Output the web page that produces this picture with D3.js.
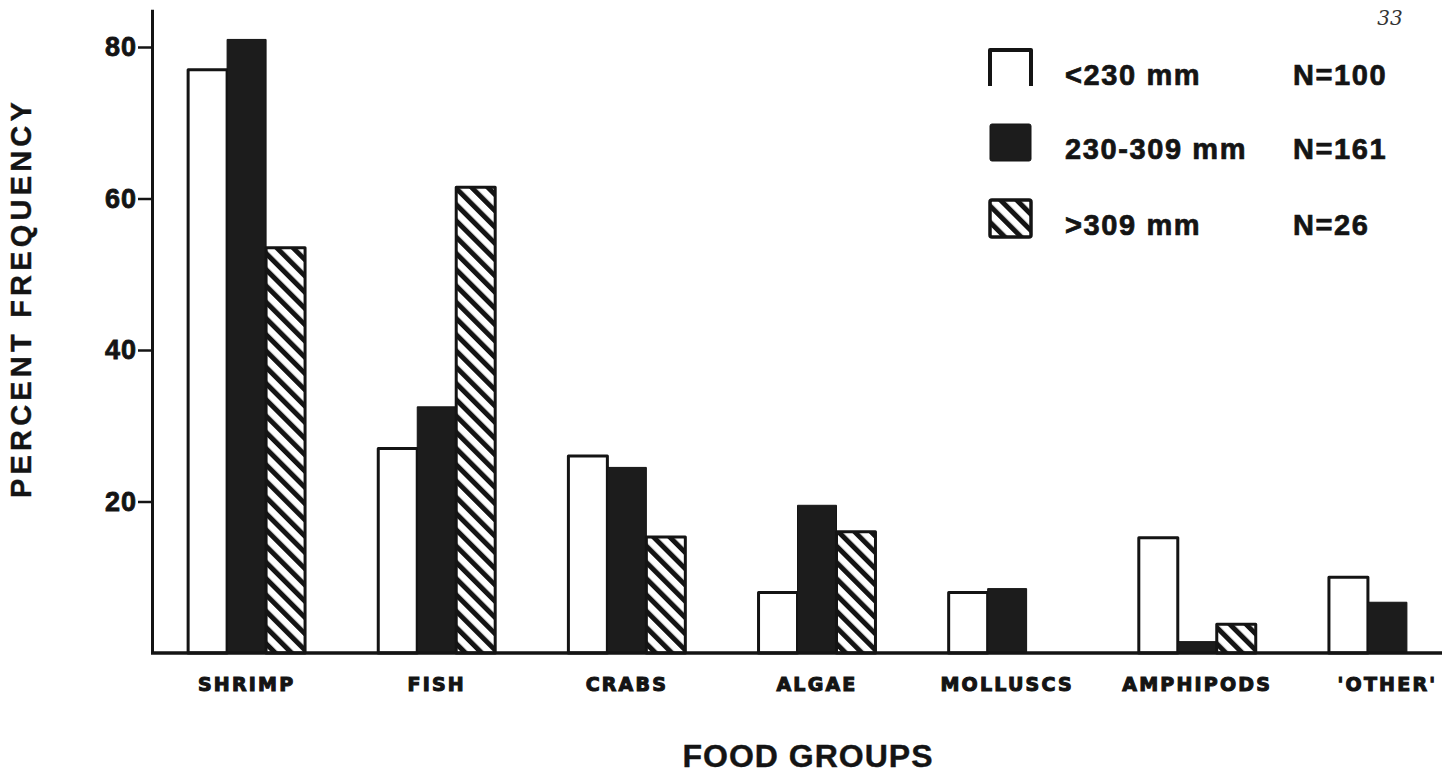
<!DOCTYPE html>
<html>
<head>
<meta charset="utf-8">
<script src="https://cdn.jsdelivr.net/npm/d3@7"></script>
<style>
  html, body { margin: 0; padding: 0; background: #ffffff; }
  svg { display: block; }
</style>
</head>
<body>
<script>
// ---------------- DATA ----------------
const categories = ["SHRIMP", "FISH", "CRABS", "ALGAE", "MOLLUSCS", "AMPHIPODS", "'OTHER'"];
const seriesNames = ["<230 mm", "230-309 mm", ">309 mm"];
const seriesN = ["N=100", "N=161", "N=26"];
const seriesKeys = ["small", "medium", "large"];
const smallVals  = [77, 27, 26, 8, 8, 15.2, 10];
const mediumVals = [81, 32.5, 24.5, 19.5, 8.5, 1.5, 6.7];
const largeVals  = [53.5, 61.5, 15.3, 16, 0, 3.8, 0];
const yTickValues = [20, 40, 60, 80];
const yTitle = "PERCENT FREQUENCY";
const xTitle = "FOOD GROUPS";
const pageNumber = "33";

// ---------------- LAYOUT ----------------
const W = 1452, H = 774;
const axisX = 152, baseY = 653;
const ink = "#141414";

const rows = categories.map((c, i) => ({
  cat: c,
  values: [smallVals[i], mediumVals[i], largeVals[i]]
}));

const svg = d3.select("body").append("svg")
  .attr("width", W).attr("height", H)
  .attr("viewBox", `0 0 ${W} ${H}`);

svg.append("rect").attr("width", W).attr("height", H).attr("fill", "#fff");

const defs = svg.append("defs");
const pat = defs.append("pattern")
  .attr("id", "hatch")
  .attr("patternUnits", "userSpaceOnUse")
  .attr("width", 11.5).attr("height", 11.5)
  .attr("patternTransform", "rotate(-45)");
pat.append("rect").attr("width", 11.5).attr("height", 11.5).attr("fill", "#fff");
pat.append("rect").attr("x", 0).attr("width", 5).attr("height", 11.5).attr("fill", ink);

const fills = ["#ffffff", "#1c1c1c", "url(#hatch)"];

// scales
const y = d3.scaleLinear().domain([0, 85]).range([baseY, baseY - 85 * 7.575]);
const x0 = d3.scaleBand().domain(categories).range([axisX, 1482])
  .paddingInner(0.385).paddingOuter(0.19);
const x1 = d3.scaleBand().domain(seriesKeys).range([0, x0.bandwidth()]).padding(0);

// bars
const g = svg.append("g");
const groups = g.selectAll("g.grp").data(rows).join("g")
  .attr("class", "grp")
  .attr("transform", d => `translate(${x0(d.cat)},0)`);

groups.selectAll("rect")
  .data(d => d.values.map((v, i) => ({ v, i })).filter(e => e.v > 0))
  .join("rect")
  .attr("x", e => x1(seriesKeys[e.i]))
  .attr("y", e => y(e.v))
  .attr("width", x1.bandwidth())
  .attr("height", e => baseY - y(e.v))
  .attr("fill", e => fills[e.i])
  .attr("stroke", ink)
  .attr("stroke-width", e => e.i === 1 ? 1 : 3)
  .attr("stroke-linejoin", "round");

// y axis
const yAxis = d3.axisLeft(y).tickValues(yTickValues).tickSize(14).tickSizeOuter(0).tickPadding(1);
const ya = svg.append("g").attr("transform", `translate(${axisX},0)`).call(yAxis);
ya.select(".domain").attr("stroke", ink).attr("stroke-width", 3);
ya.selectAll(".tick line").attr("stroke", ink).attr("stroke-width", 2.5);
ya.selectAll(".tick text")
  .attr("fill", ink)
  .attr("stroke", ink).attr("stroke-width", 0.8)
  .style("font-family", "'Liberation Sans', Arial, sans-serif")
  .style("font-weight", "bold")
  .style("font-size", "27px")
  .style("letter-spacing", "1px");

// x axis (labels) + baseline
const xAxis = d3.axisBottom(x0).tickSize(0).tickPadding(25);
const xa = svg.append("g").attr("transform", `translate(0,${baseY})`).call(xAxis);
xa.select(".domain").remove();
xa.selectAll(".tick text")
  .attr("fill", ink)
  .attr("stroke", ink).attr("stroke-width", 1.1)
  .style("font-family", "'DejaVu Sans', sans-serif")
  .style("font-weight", "bold")
  .style("font-size", "19px")
  .style("letter-spacing", "2.2px");

svg.append("line")
  .attr("x1", axisX - 1).attr("x2", 1442)
  .attr("y1", baseY).attr("y2", baseY)
  .attr("stroke", ink).attr("stroke-width", 3.5);

// axis titles
svg.append("text")
  .attr("transform", `translate(31,298) rotate(-90)`)
  .attr("text-anchor", "middle")
  .attr("fill", ink)
  .attr("stroke", ink).attr("stroke-width", 0.4)
  .style("font-family", "'Liberation Sans', Arial, sans-serif")
  .style("font-weight", "bold")
  .style("font-size", "29px")
  .style("letter-spacing", "4.2px")
  .text(yTitle);

svg.append("text")
  .attr("x", 808).attr("y", 767)
  .attr("text-anchor", "middle")
  .attr("fill", ink)
  .attr("stroke", ink).attr("stroke-width", 0.4)
  .style("font-family", "'Liberation Sans', Arial, sans-serif")
  .style("font-weight", "bold")
  .style("font-size", "32px")
  .style("letter-spacing", "1px")
  .text(xTitle);

// page number
svg.append("text")
  .attr("x", 1390).attr("y", 25)
  .attr("text-anchor", "middle")
  .attr("fill", "#333")
  .style("font-family", "'DejaVu Serif', serif")
  .style("font-style", "italic")
  .style("font-size", "20px")
  .text(pageNumber);

// legend
const legRowY = [50, 124, 200];
const leg = svg.append("g");
const legFont = sel => sel
  .attr("fill", ink)
  .attr("stroke", ink).attr("stroke-width", 0.7)
  .style("font-family", "'Liberation Sans', Arial, sans-serif")
  .style("font-weight", "bold")
  .style("font-size", "29px")
  .style("letter-spacing", "1.6px");
seriesNames.forEach((name, i) => {
  const top = legRowY[i];
  if (i === 0) {
    leg.append("path")
      .attr("d", `M${990},${top + 36} L${990},${top} L${1031},${top} L${1031},${top + 36}`)
      .attr("fill", "none").attr("stroke", ink).attr("stroke-width", 4)
      .attr("stroke-linejoin", "round");
  } else {
    leg.append("rect")
      .attr("x", 990).attr("y", top).attr("width", 41).attr("height", 37)
      .attr("rx", 2)
      .attr("fill", fills[i]).attr("stroke", ink).attr("stroke-width", i === 1 ? 1 : 3.5);
  }
  leg.append("text")
    .attr("x", 1065).attr("y", top + 35)
    .call(legFont)
    .text(name);
  leg.append("text")
    .attr("x", 1293).attr("y", top + 35)
    .call(legFont)
    .text(seriesN[i]);
});
</script>
</body>
</html>
